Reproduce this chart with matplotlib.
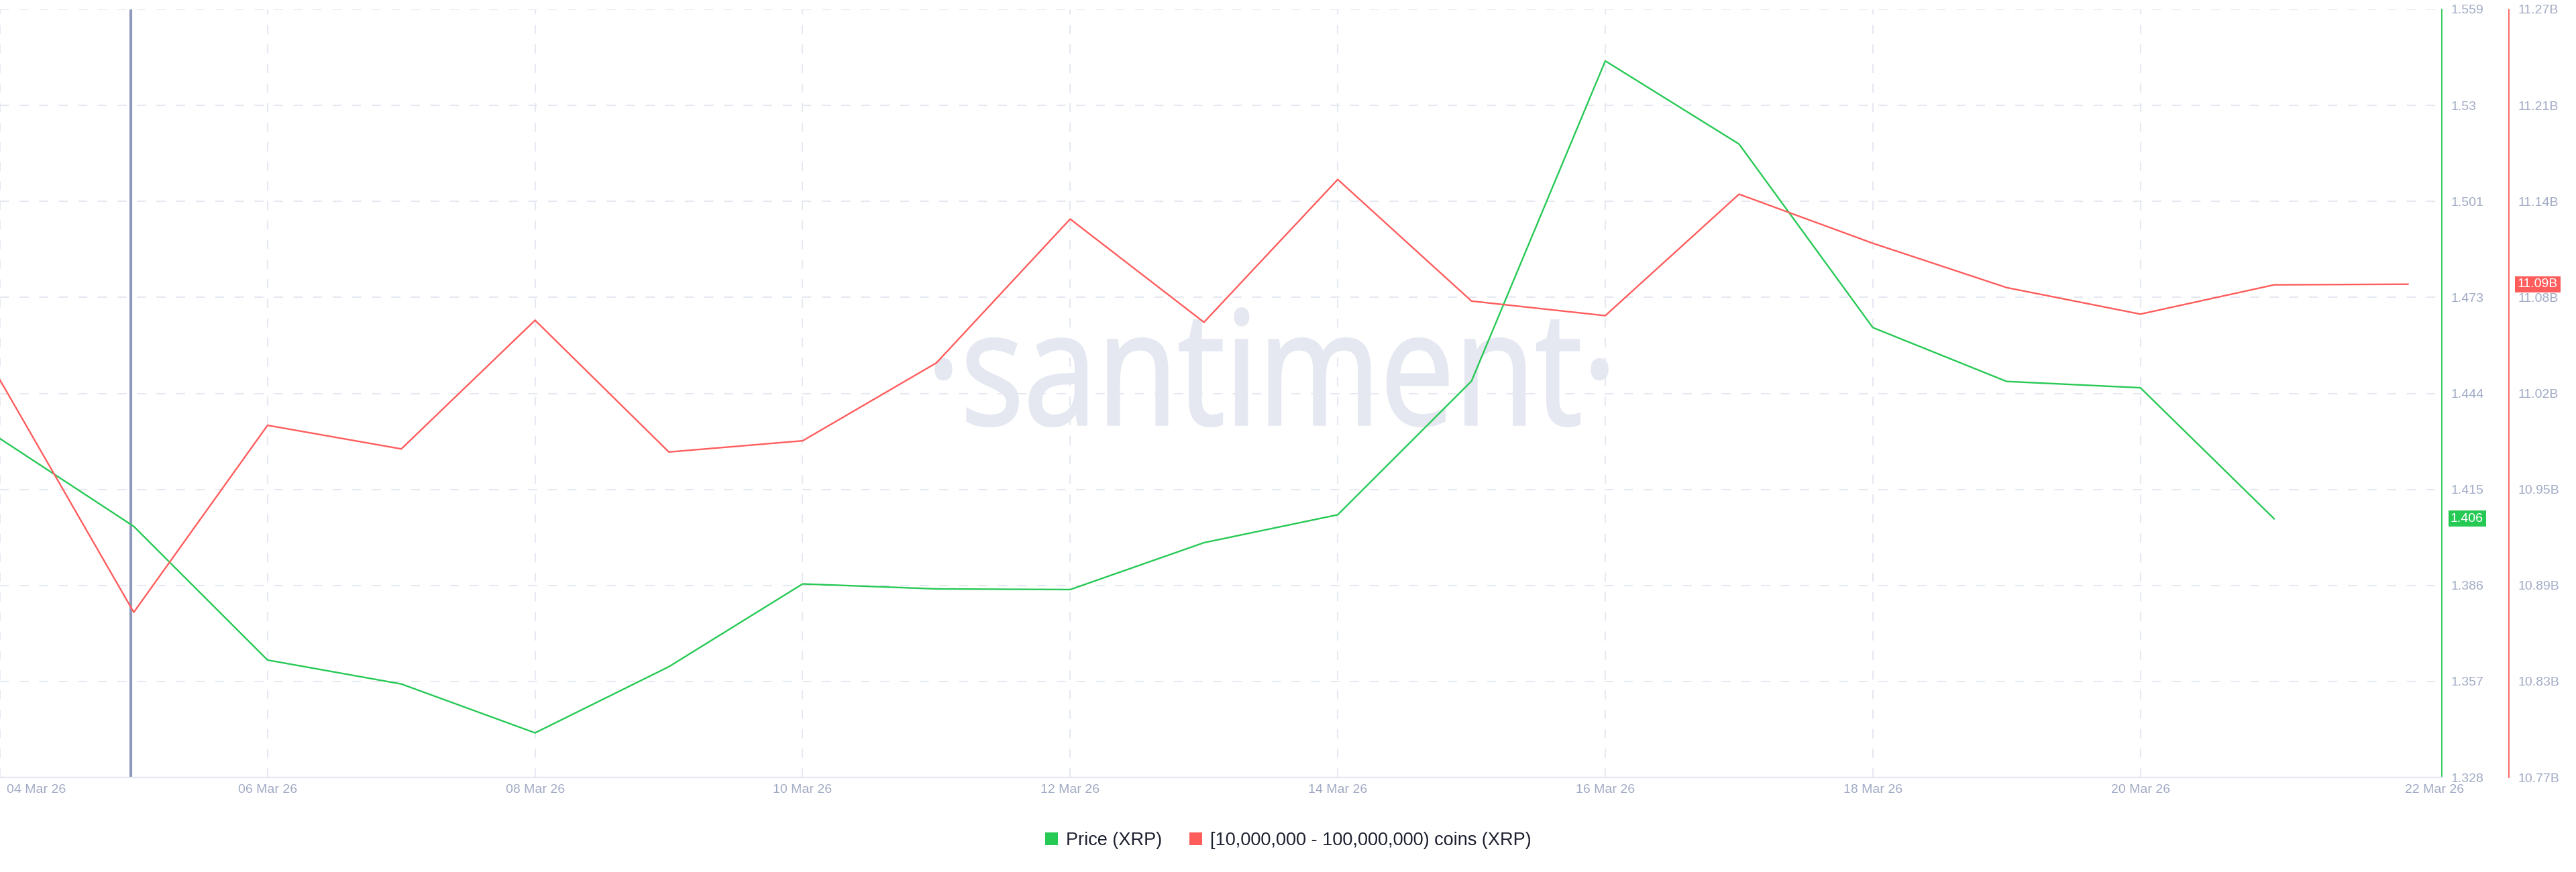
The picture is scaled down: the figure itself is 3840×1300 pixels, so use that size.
# XRP price vs [10M - 100M) coins holder balance, santiment style chart
import numpy as np
import pandas as pd
import matplotlib
matplotlib.use('Agg')
from matplotlib import pyplot as plt
from matplotlib.patches import Patch, PathPatch
from matplotlib.textpath import TextPath
from matplotlib.font_manager import FontProperties
from matplotlib.transforms import Affine2D, ScaledTranslation

# data
price_dates = ['2026-03-04', '2026-03-05', '2026-03-06', '2026-03-07', '2026-03-08', '2026-03-09',
               '2026-03-10', '2026-03-11', '2026-03-12', '2026-03-13', '2026-03-14', '2026-03-15',
               '2026-03-16', '2026-03-17', '2026-03-18', '2026-03-19', '2026-03-20', '2026-03-21']
price = [1.4299, 1.4035, 1.3633, 1.3561, 1.3414, 1.3613, 1.3862, 1.3847, 1.3845,
         1.3986, 1.4070, 1.4472, 1.5435, 1.5185, 1.4633, 1.4471, 1.4452, 1.4058]

holder_dates = price_dates + ['2026-03-22']
holder_balance = [11.0311, 10.8797, 11.0016, 10.9862, 11.0701, 10.9842, 10.9915, 11.0423, 11.1361,
                  11.0688, 11.1619, 11.0826, 11.0731, 11.1523, 11.1203, 11.0914, 11.0741, 11.0932,
                  11.0936]  # billions

x_tick_dates = ['2026-03-04', '2026-03-06', '2026-03-08', '2026-03-10', '2026-03-12',
                '2026-03-14', '2026-03-16', '2026-03-18', '2026-03-20', '2026-03-22']
x_tick_labels = ['04 Mar 26', '06 Mar 26', '08 Mar 26', '10 Mar 26', '12 Mar 26',
                 '14 Mar 26', '16 Mar 26', '18 Mar 26', '20 Mar 26', '22 Mar 26']
x_limits = ['2026-03-04 00:00', '2026-03-22 06:05']

price_limits = (1.328, 1.559)
price_tick_labels = ['1.328', '1.357', '1.386', '1.415', '1.444', '1.473', '1.501', '1.53', '1.559']
holder_limits = (10.772, 11.2728)
holder_tick_labels = ['10.77B', '10.83B', '10.89B', '10.95B', '11.02B',
                      '11.08B', '11.14B', '11.21B', '11.27B']

cursor_date = '2026-03-04 23:25'
last_price_label = '1.406'
last_holder_label = '11.09B'

green = '#26c954'
red = '#ff5c5c'
tick_color = '#a2abc5'
grid_color = '#e6e8f2'

plt.rcParams['font.family'] = ['Liberation Sans', 'DejaVu Sans']

price_x = pd.to_datetime(price_dates)
holder_x = pd.to_datetime(holder_dates)
tick_x = pd.to_datetime(x_tick_dates)

fig = plt.figure(figsize=(38.4, 13), dpi=100)
fig.patch.set_facecolor('white')
W, H = 3840, 1300
ax = fig.add_axes([0, 1 - 1159 / H, 3640 / W, (1159 - 14) / H])
ax2 = ax.twinx()

# watermark
tp = TextPath((0, 0), '\u00b7santiment\u00b7', size=100, prop=FontProperties(family='Open Sans'))
bb = tp.get_extents()
sx = 1001 / bb.width
sy = 126 / 53.5
wm_tr = Affine2D().translate(-bb.x0, 0).scale(sx, sy).translate(1395, H - 633).scale(1 / W, 1 / H) + fig.transFigure
wm = PathPatch(tp, transform=wm_tr, facecolor='#e5e8f1', edgecolor='#e5e8f1', lw=2.5,
               zorder=0.5, clip_on=False)
ax.add_artist(wm)

# price axis (green)
ax.plot(price_x, price, color=green, lw=1.7, zorder=3)
ax.set_ylim(*price_limits)
ax.set_yticks(np.linspace(price_limits[0], price_limits[1], len(price_tick_labels)))
ax.set_yticklabels(price_tick_labels)
ax.yaxis.tick_right()
ax.yaxis.set_label_position('right')
ax.set_xlim(pd.to_datetime(x_limits))
ax.set_xticks(tick_x)
ax.set_xticklabels(x_tick_labels)
ax.tick_params(axis='both', length=0, labelsize=14, labelcolor=tick_color)
ax.tick_params(axis='y', pad=9.4, labelleft=False, labelright=True)
ax.tick_params(axis='x', pad=7)
xlabels = ax.get_xticklabels()
xlabels[0].set_ha('left')
xlabels[0].set_transform(xlabels[0].get_transform() + ScaledTranslation(10 / 100, 0, fig.dpi_scale_trans))
xlabels[-1].set_ha('left')
xlabels[-1].set_transform(xlabels[-1].get_transform() + ScaledTranslation(-4 / 100, 0, fig.dpi_scale_trans))

ax.set_axisbelow(True)
ax.grid(axis='y', color=grid_color, lw=1.5, linestyle=(0, (6.5, 7.5)))
for d in tick_x[:-1]:
    ax.axvline(d, color=grid_color, lw=1.5, linestyle=(0, (6.5, 7.5)), zorder=0.8)
ax.axvline(pd.to_datetime(cursor_date), color='#8f98ba', lw=3, zorder=1)

for s in ['left', 'top']:
    ax.spines[s].set_visible(False)
ax.spines['bottom'].set_color('#e4e7f2')
ax.spines['bottom'].set_linewidth(1.5)
ax.spines['right'].set_color(green)
ax.spines['right'].set_linewidth(1.3)

ax.annotate(last_price_label, xy=(1, price[-1]), xycoords=('axes fraction', 'data'),
            xytext=(13, 0), textcoords='offset pixels', ha='left', va='center',
            fontsize=14, color='white', annotation_clip=False, zorder=6,
            bbox=dict(boxstyle='square,pad=0.18', facecolor=green, edgecolor='none'))

# holder balance axis (red)
ax2.plot(holder_x, holder_balance, color=red, lw=1.7, zorder=3)
ax2.set_ylim(*holder_limits)
ax2.set_yticks(np.linspace(holder_limits[0], holder_limits[1], len(holder_tick_labels)))
ax2.set_yticklabels(holder_tick_labels)
ax2.tick_params(axis='y', length=0, labelsize=14, labelcolor=tick_color, pad=9.4)
for s in ['left', 'top', 'bottom']:
    ax2.spines[s].set_visible(False)
ax2.spines['right'].set_position(('axes', 3740 / 3640))
ax2.spines['right'].set_color(red)
ax2.spines['right'].set_linewidth(1.3)

ax2.annotate(last_holder_label, xy=(3740 / 3640, holder_balance[-1]), xycoords=('axes fraction', 'data'),
             xytext=(13, 0), textcoords='offset pixels', ha='left', va='center',
             fontsize=14, color='white', annotation_clip=False, zorder=6,
             bbox=dict(boxstyle='square,pad=0.18', facecolor=red, edgecolor='none'))

# legend
handles = [Patch(facecolor=green, edgecolor='none', label='Price (XRP)'),
           Patch(facecolor=red, edgecolor='none', label='[10,000,000 - 100,000,000) coins (XRP)')]
fig.legend(handles=handles, loc='center', bbox_to_anchor=(0.5, 1 - 1253 / H), ncol=2, frameon=False,
           fontsize=19.5, labelcolor='#1c1f2e', handlelength=0.7, handleheight=0.7,
           handletextpad=0.45, columnspacing=1.5)

plt.savefig('out.png', dpi=100, facecolor='white')
